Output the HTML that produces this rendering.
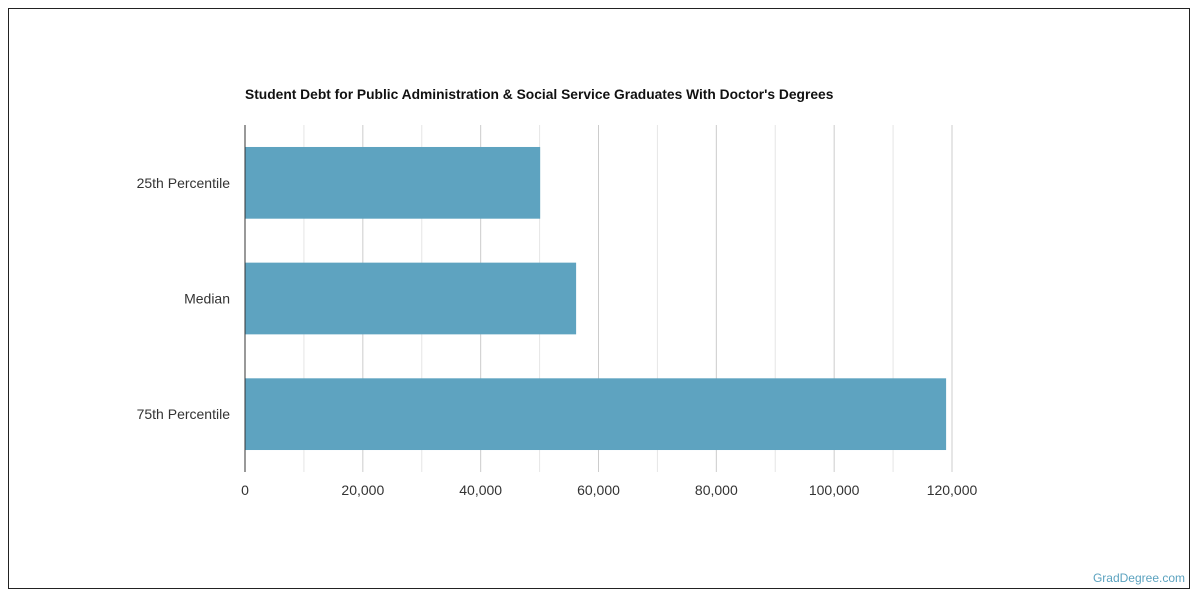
<!DOCTYPE html>
<html><head><meta charset="utf-8"><style>
body{margin:0;background:#fff;font-family:"Liberation Sans",sans-serif}
#frame{position:absolute;left:8px;top:8px;width:1182px;height:581px;border:1px solid #222;box-sizing:border-box}
</style></head><body>
<div id="frame"></div>
<svg id="c" width="1200" height="600" style="position:absolute;left:0;top:0">
<text x="245" y="99" font-size="13.8" font-weight="bold" fill="#111">Student Debt for Public Administration &amp; Social Service Graduates With Doctor's Degrees</text>
<text x="1185" y="582" font-size="12" fill="#5ba2bf" text-anchor="end">GradDegree.com</text>
</svg>
<script>
const categories=["25th Percentile","Median","75th Percentile"];
const values=[50100,56200,119000];
const tickValues=[0,20000,40000,60000,80000,100000,120000];
const tickLabels=["0","20,000","40,000","60,000","80,000","100,000","120,000"];
(function(){
const svg=document.getElementById('c');const NS="http://www.w3.org/2000/svg";
const x0=245,x1=952,xmax=120000,plotTop=125,plotBot=472;
const xs=v=>x0+(v/xmax)*(x1-x0);
const band=(plotBot-plotTop)/categories.length;
function mk(t,a){const e=document.createElementNS(NS,t);for(const k in a)e.setAttribute(k,a[k]);svg.appendChild(e);return e;}
for(let v=10000;v<=xmax;v+=10000){
 const g=mk('line',{x1:xs(v),x2:xs(v),y1:plotTop,y2:plotBot,stroke:v%20000?'#e6e6e6':'#cccccc','stroke-width':1});
 
 
}
tickValues.forEach((v,i)=>{
 const t=mk('text',{x:xs(v),y:495,'font-size':14,fill:'#333','text-anchor':'middle'});t.textContent=tickLabels[i];
 
 
});
categories.forEach((c,i)=>{
 const y=plotTop+band*i+band*0.19,h=band*0.62;
 const r=mk('rect',{x:x0,y:y,width:xs(values[i])-x0,height:h,fill:'#5ea3c0'});
 
 
 const t=mk('text',{x:230,y:y+h/2+5,'font-size':14,fill:'#333','text-anchor':'end'});t.textContent=c;
 
 
});
const ax=mk('line',{x1:x0,x2:x0,y1:plotTop,y2:plotBot,stroke:'#333','stroke-width':1});


})();
</script>
</body></html>
